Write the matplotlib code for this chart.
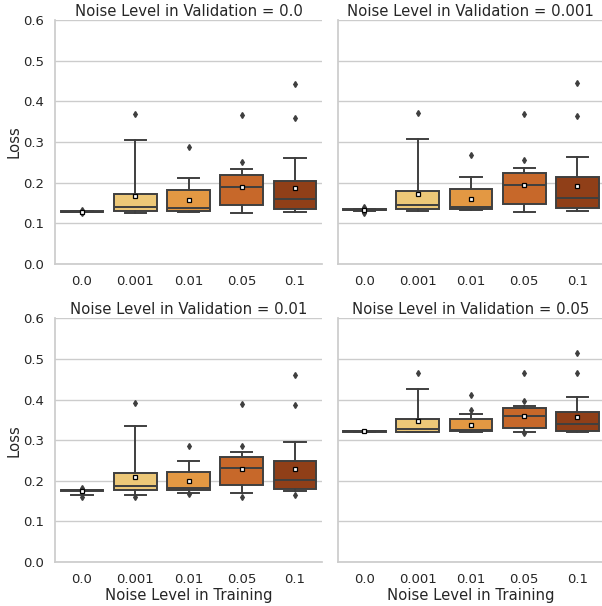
import matplotlib
matplotlib.use("Agg")
import matplotlib.pyplot as plt

train_levels = ["0.0", "0.001", "0.01", "0.05", "0.1"]
val_levels = ["0.0", "0.001", "0.01", "0.05"]
box_colors = ["#F3E6B6", "#EDC878", "#E39843", "#C7682A", "#903F18"]

# per validation level: one entry per training level
# (q1, median, q3, whisker low, whisker high, mean, fliers)
stats_val_00 = [
    (0.128, 0.129, 0.131, 0.127, 0.131, 0.129, [0.125, 0.133]),
    (0.130, 0.140, 0.1725, 0.1265, 0.304, 0.168, [0.370]),
    (0.131, 0.137, 0.181, 0.128, 0.211, 0.1585, [0.287]),
    (0.146, 0.1905, 0.220, 0.125, 0.233, 0.190, [0.252, 0.3655]),
    (0.135, 0.161, 0.204, 0.127, 0.260, 0.187, [0.360, 0.4435]),
]
stats_val_0001 = [
    (0.132, 0.133, 0.135, 0.131, 0.135, 0.133, [0.1395, 0.1257]),
    (0.1347, 0.145, 0.179, 0.130, 0.307, 0.1725, [0.371]),
    (0.1355, 0.1395, 0.185, 0.133, 0.215, 0.161, [0.268]),
    (0.148, 0.1947, 0.224, 0.128, 0.237, 0.193, [0.2555, 0.368]),
    (0.137, 0.162, 0.2135, 0.131, 0.262, 0.191, [0.364, 0.445]),
]
stats_val_001 = [
    (0.175, 0.177, 0.178, 0.165, 0.178, 0.176, [0.161, 0.183]),
    (0.1777, 0.1875, 0.2186, 0.165, 0.334, 0.210, [0.1605, 0.391]),
    (0.177, 0.1826, 0.2226, 0.170, 0.249, 0.2006, [0.168, 0.2856]),
    (0.189, 0.2325, 0.2586, 0.171, 0.271, 0.230, [0.161, 0.2865, 0.3895]),
    (0.1793, 0.202, 0.249, 0.175, 0.296, 0.228, [0.1646, 0.386, 0.4606]),
]
stats_val_005 = [
    (0.321, 0.322, 0.323, 0.321, 0.323, 0.322, []),
    (0.321, 0.328, 0.3525, 0.3197, 0.426, 0.346, [0.4655]),
    (0.323, 0.3246, 0.3516, 0.321, 0.365, 0.3385, [0.3754, 0.410]),
    (0.331, 0.360, 0.3795, 0.3213, 0.3836, 0.359, [0.317, 0.397, 0.4655]),
    (0.3238, 0.339, 0.3705, 0.3213, 0.4057, 0.358, [0.4655, 0.5156]),
]
all_stats = [stats_val_00, stats_val_0001, stats_val_001, stats_val_005]

edge = "#3f3f3f"
fig = plt.figure(figsize=(6.02, 6.06), dpi=100)
positions = [[0.0919, 0.5644, 0.4425, 0.4026], [0.561, 0.5644, 0.4425, 0.4026],
             [0.0919, 0.0726, 0.4425, 0.4021], [0.561, 0.0726, 0.4425, 0.4021]]

for i, stats in enumerate(all_stats):
    ax = fig.add_axes(positions[i])
    bxp_stats = []
    for s in stats:
        q1, med, q3, lo, hi, mean, fl = s
        bxp_stats.append(dict(q1=q1, med=med, q3=q3, whislo=lo, whishi=hi, mean=mean, fliers=fl))
    parts = ax.bxp(bxp_stats, positions=range(len(train_levels)), widths=0.8,
                   patch_artist=True, showmeans=True,
                   boxprops=dict(edgecolor=edge, linewidth=1.4),
                   medianprops=dict(color=edge, linewidth=1.4),
                   whiskerprops=dict(color=edge, linewidth=1.4),
                   capprops=dict(color=edge, linewidth=1.4),
                   flierprops=dict(marker="d", markerfacecolor=edge, markeredgecolor=edge,
                                   markersize=3),
                   meanprops=dict(marker="s", markerfacecolor="white", markeredgecolor="black",
                                  markersize=3.2, markeredgewidth=0.9))
    for patch, c in zip(parts["boxes"], box_colors):
        patch.set_facecolor(c)
    ax.set_xlim(-0.5, 4.5)
    ax.set_ylim(0, 0.6)
    ax.set_yticks([0, 0.1, 0.2, 0.3, 0.4, 0.5, 0.6])
    ax.set_xticks(range(len(train_levels)))
    ax.set_xticklabels(train_levels, fontsize=9.5, color="#262626")
    ax.yaxis.grid(True, color="#cccccc", linewidth=1)
    ax.set_axisbelow(True)
    ax.tick_params(length=0, pad=8, labelsize=9.5, labelcolor="#262626")
    for side in ["top", "right"]:
        ax.spines[side].set_visible(False)
    for side in ["left", "bottom"]:
        ax.spines[side].set_color("#cccccc")
        ax.spines[side].set_linewidth(1.25)
    ax.set_title("Noise Level in Validation = " + val_levels[i], fontsize=10.7,
                 color="#262626", pad=3)
    if i % 2 == 0:
        ax.set_yticklabels(["0.0", "0.1", "0.2", "0.3", "0.4", "0.5", "0.6"])
        ax.set_ylabel("Loss", fontsize=10.7, color="#262626", labelpad=1)
    else:
        ax.set_yticklabels([])
    if i >= 2:
        ax.set_xlabel("Noise Level in Training", fontsize=10.7, color="#262626", labelpad=1)

fig.savefig("out.png", dpi=100)
